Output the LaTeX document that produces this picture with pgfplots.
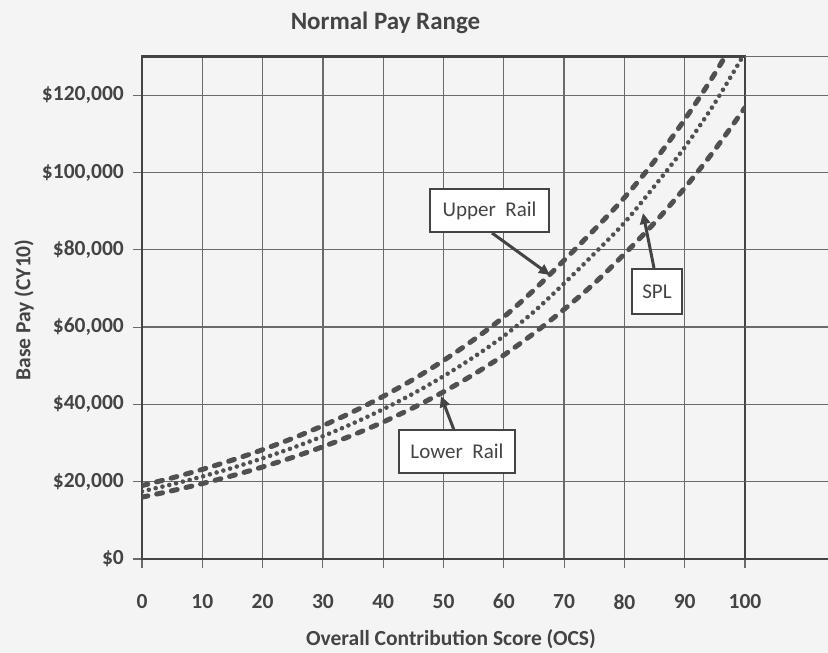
\documentclass[border=0pt]{standalone}
\usepackage{pgfplots}
\pgfplotsset{compat=1.18}
\usetikzlibrary{arrows.meta}
\usepackage{fontspec}
\setmainfont{Carlito}
\definecolor{ink}{HTML}{444444}
\definecolor{curve}{HTML}{505050}
\definecolor{gridc}{HTML}{6A6A6A}
\definecolor{bg}{HTML}{F4F4F4}

\pgfplotstableread{
x upper
0 19000
5 20990
10 23180
15 25600
20 28280
25 31230
30 34500
35 38100
40 42090
45 46480
50 51350
55 56710
60 62640
65 69600
70 77300
75 85200
80 93500
85 103000
90 113700
95 125600
100 138800
}\tabUpper

\pgfplotstableread{
x spl
0 17500
5 19330
10 21350
15 23580
20 26050
25 28770
30 31770
35 35100
40 38760
45 42810
50 47290
55 52230
60 57690
65 64000
70 71300
75 79000
80 87000
85 96500
90 106500
95 118000
100 131000
}\tabSpl

\pgfplotstableread{
x lower
0 16000
5 17670
10 19520
15 21560
20 23810
25 26300
30 29050
35 32090
40 35450
45 39150
50 43240
55 47760
60 52750
65 58400
70 64600
75 71300
80 78900
85 87000
90 96000
95 105900
100 116800
}\tabLower

\begin{document}
\begin{tikzpicture}
\fill[bg] (-142pt,-94pt) rectangle (686pt,559pt);
\begin{axis}[
  at={(0pt,0pt)}, anchor=south west, scale only axis,
  width=603pt, height=502.45pt,
  xmin=0, xmax=100, ymin=0, ymax=130000,
  xtick={0,10,...,100}, ytick={0,20000,40000,60000,80000,100000,120000},
  xticklabels={0,10,20,30,40,50,60,70,80,90,100},
  yticklabels={\$0,{\$20,000},{\$40,000},{\$60,000},{\$80,000},{\$100,000},{\$120,000}},
  scaled y ticks=false,
  grid=major, major grid style={gridc, line width=1.3pt},
  axis line style={ink, line width=2.6pt},
  tick align=outside, major tick length=9pt,
  tick style={gridc, line width=1.1pt},
  xtick pos=bottom, ytick pos=left,
  tick label style={font=\fontsize{21.5}{24}\selectfont\bfseries, text=ink},
  yticklabel style={inner sep=0pt, anchor=east, xshift=-9pt},
  xticklabel style={inner sep=0pt, anchor=north, yshift=-26pt},
  clip mode=individual,
]
\addplot[curve, line width=5pt, line cap=round, dash pattern=on 6pt off 9pt, smooth] table[x=x,y=upper] {\tabUpper};
\addplot[curve, line width=4.6pt, line cap=round, dash pattern=on 0pt off 7pt, smooth] table[x=x,y=spl] {\tabSpl};
\addplot[curve, line width=5pt, line cap=round, dash pattern=on 6pt off 9pt, smooth] table[x=x,y=lower] {\tabLower};
\end{axis}
% horizontal lines continuing to the right of the plot area
\draw[ink, line width=2.6pt] (603pt,0pt) -- (686pt,0pt);
\foreach \k in {1,...,6} {\draw[gridc, line width=1.3pt] (603pt,\k*77.3pt) -- (686pt,\k*77.3pt);}
\draw[gridc, line width=1.6pt] (603pt,502.45pt) -- (686pt,502.45pt);
% titles
\node[font=\fontsize{25}{28}\selectfont\bfseries, text=ink] at (243.5pt,536pt) {Normal Pay Range};
\node[font=\fontsize{21.5}{24}\selectfont\bfseries, text=ink] at (309pt,-80pt) {Overall Contribution Score (OCS)};
\node[font=\fontsize{21.5}{24}\selectfont\bfseries, text=ink, rotate=90] at (-118pt,249pt) {Base Pay (CY10)};
% call-outs
\tikzset{callout/.style={draw=ink, line width=2pt, fill=white, text=ink, font=\fontsize{21}{24}\selectfont, inner sep=0pt, minimum height=43pt},
         arr/.style={ink, line width=3pt, -{Triangle[length=11pt,width=10pt]}}}
\draw[arr] (350pt,326pt) -- (408pt,284pt);
\node[callout, minimum width=119pt] at (347.5pt,348.5pt) {Upper\ \ Rail};
\draw[arr] (512pt,291pt) -- (501pt,346pt);
\node[callout, minimum width=50pt, minimum height=45pt] at (515pt,267.5pt) {SPL};
\draw[arr] (312pt,129pt) -- (299pt,163pt);
\node[callout, minimum width=116pt] at (315pt,107.5pt) {Lower\ \ Rail};
\pgfresetboundingbox
\path (-142pt,-94pt) rectangle (686pt,559pt);
\end{tikzpicture}
\end{document}
